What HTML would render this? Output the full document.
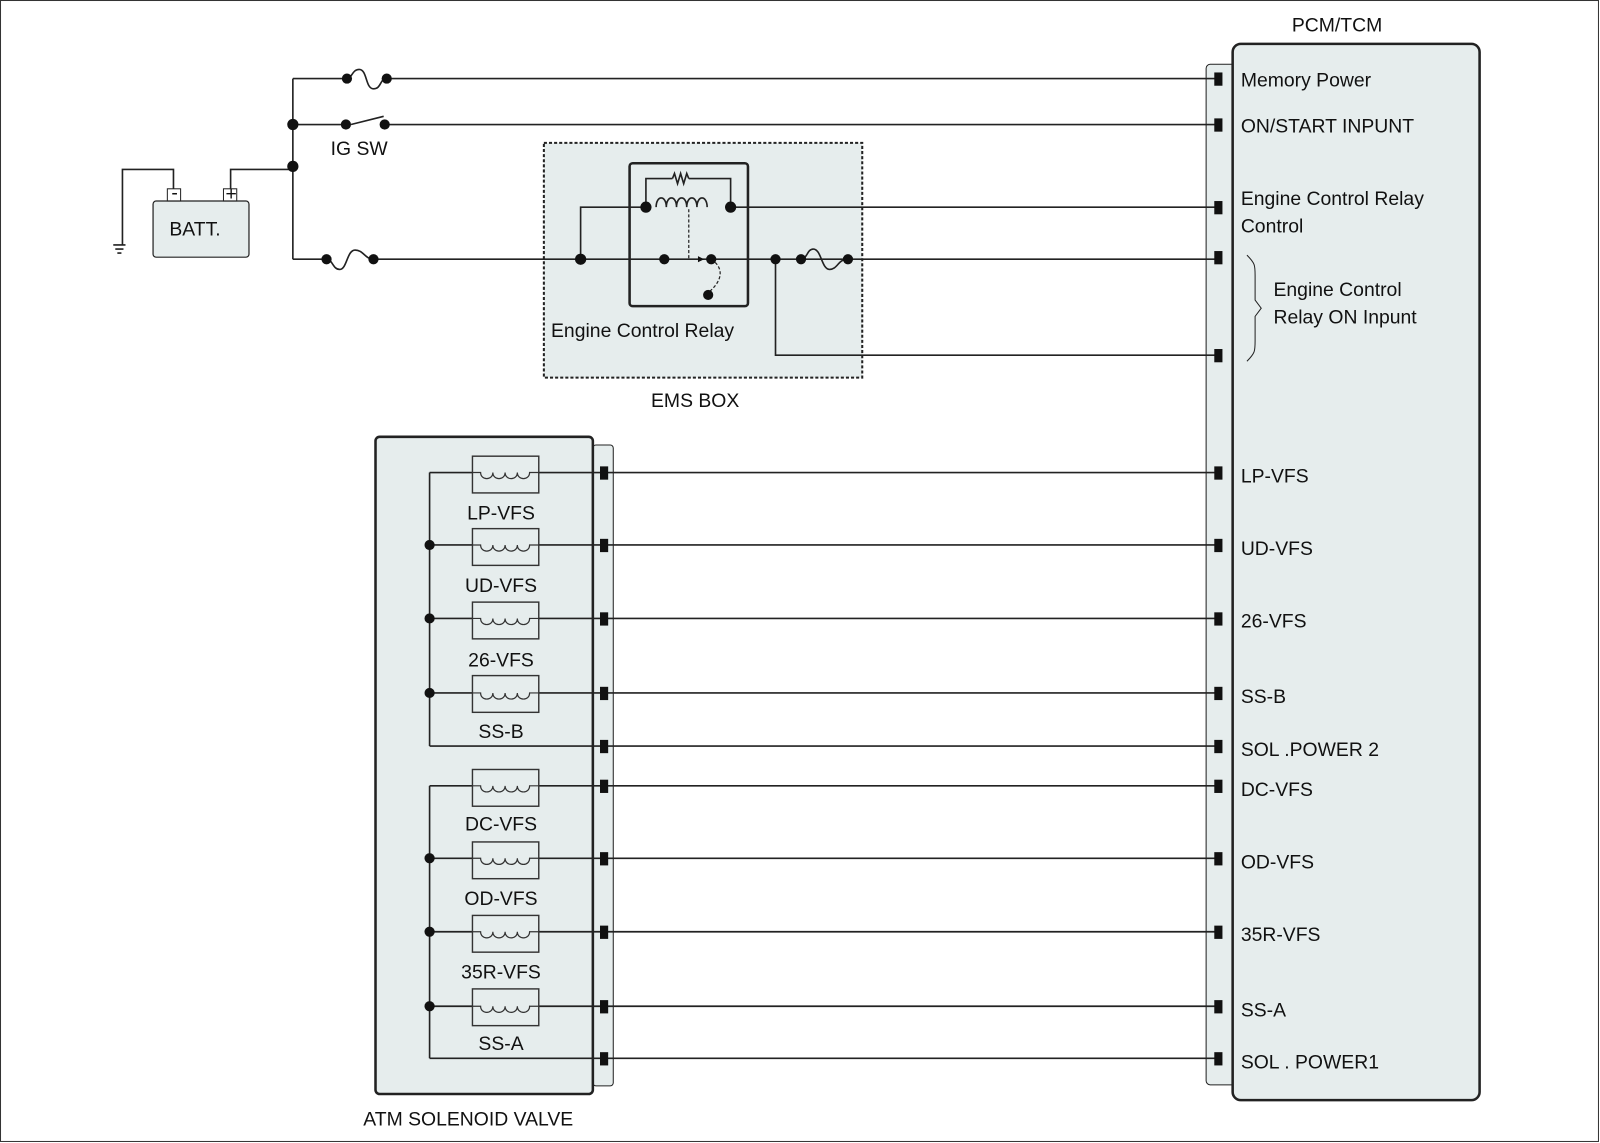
<!DOCTYPE html>
<html><head><style>
html,body{margin:0;padding:0;background:#fff;}
svg{display:block;}
text{font-family:"Liberation Sans",sans-serif;font-size:19px;fill:#111;}
</style></head><body>
<svg width="1600" height="1143" viewBox="0 0 1568 1120" preserveAspectRatio="none" xmlns="http://www.w3.org/2000/svg">
<rect x="0.5" y="0.5" width="1566" height="1118" fill="#fff" stroke="#333" stroke-width="1"/>
<g stroke="#222" stroke-width="1.6" fill="none">
<!-- PCM -->
<rect x="1182" y="63" width="30" height="1000" rx="4" fill="#e6eded" stroke-width="1"/>
<rect x="1208" y="43" width="242" height="1035" rx="8" fill="#e6eded" stroke-width="2.5"/>
<!-- EMS -->
<rect x="533" y="140" width="312" height="230" fill="#e6eded" stroke-dasharray="3,2" stroke-width="2"/>
<rect x="617" y="160" width="116" height="140" rx="3" stroke-width="2.5"/>
<!-- solenoid -->
<rect x="581" y="436" width="20" height="628" rx="3" fill="#e6eded" stroke-width="1"/>
<rect x="368" y="428" width="213" height="644" rx="4" fill="#e6eded" stroke-width="2.5"/>
<!-- battery -->
<rect x="150" y="197" width="94" height="55" rx="3" fill="#e6eded" stroke-width="1.2"/>
<rect x="164" y="185" width="13" height="12" stroke-width="1"/>
<rect x="219" y="185" width="13" height="12" stroke-width="1"/>
<path d="M170 185V166H120V240M226 185V166H287M287 77V254M287 77H340M379 77H1194M287 122H339M344 122L376 114M377 122H1194M287 254H320M366 254H1194M111 240H123M113 244H121M115 248H119"/>
<path d="M340 77C345 77 345 68 352 68C360 68 358 87 366 87C374 87 372 77 379 77"/>
<path d="M320 254C326 254 326 264 333 264C340 264 340 245 348 245C356 245 358 254 366 254"/>
<!-- relay -->
<path d="M569 254V203H633M633 203C633 175 633 175 633 175H659M675 175H716V203M716 203H1194"/>
<path d="M659 175l2 -5l3 10l3 -10l3 10l3 -10l2 5" />
<path d="M643 203c0-12 10-12 10 0c0-12 10-12 10 0c0-12 10-12 10 0c0-12 10-12 10 0c0-12 10-12 10 0" />
<path d="M675 205V254M697 254c12 8 12 20 -2 32" stroke-dasharray="3,2" stroke-width="1.2"/>
<path d="M760 254V348H1194M785 254c6 0 6 -10 12 -10c8 0 8 20 16 20c8 0 8 -10 18 -10"/>
<path d="M1222 250c8 8 8 10 8 20v24l6 8l-6 8v24c0 10 0 12 -8 20" stroke-width="1"/>
<!-- solenoid lines -->
<path d="M421 463V731M421 770V1037M421 463H463M421 534H463M421 606H463M421 679H463M421 770H463M421 841H463M421 913H463M421 986H463M421 731H1194M421 1037H1194"/>
<path d="M528 463H1194M528 534H1194M528 606H1194M528 679H1194M528 770H1194M528 841H1194M528 913H1194M528 986H1194"/>
</g>
<g fill="#111">
<polygon points="684,251 690,254 684,257"/>
<circle cx="340" cy="77" r="5"/><circle cx="379" cy="77" r="5"/>
<circle cx="287" cy="122" r="5.5"/><circle cx="287" cy="163" r="5.5"/>
<circle cx="339" cy="122" r="5"/><circle cx="377" cy="122" r="5"/>
<circle cx="320" cy="254" r="5"/><circle cx="366" cy="254" r="5"/>
<circle cx="569" cy="254" r="5.5"/><circle cx="633" cy="203" r="5.5"/><circle cx="716" cy="203" r="5.5"/>
<circle cx="651" cy="254" r="5"/><circle cx="697" cy="254" r="5"/><circle cx="694" cy="289" r="5"/>
<circle cx="760" cy="254" r="5"/><circle cx="785" cy="254" r="5"/><circle cx="831" cy="254" r="5"/>
<g>
<rect x="1190" y="71" width="8" height="13"/><rect x="1190" y="116" width="8" height="13"/>
<rect x="1190" y="197" width="8" height="13"/><rect x="1190" y="246" width="8" height="13"/>
<rect x="1190" y="342" width="8" height="13"/>
<rect x="1190" y="457" width="8" height="13"/><rect x="1190" y="528" width="8" height="13"/>
<rect x="1190" y="600" width="8" height="13"/><rect x="1190" y="673" width="8" height="13"/>
<rect x="1190" y="725" width="8" height="13"/><rect x="1190" y="764" width="8" height="13"/>
<rect x="1190" y="835" width="8" height="13"/><rect x="1190" y="907" width="8" height="13"/>
<rect x="1190" y="980" width="8" height="13"/><rect x="1190" y="1031" width="8" height="13"/>
</g>
<g>
<rect x="588" y="457" width="8" height="13"/><rect x="588" y="528" width="8" height="13"/>
<rect x="588" y="600" width="8" height="13"/><rect x="588" y="673" width="8" height="13"/>
<rect x="588" y="725" width="8" height="13"/><rect x="588" y="764" width="8" height="13"/>
<rect x="588" y="835" width="8" height="13"/><rect x="588" y="907" width="8" height="13"/>
<rect x="588" y="980" width="8" height="13"/><rect x="588" y="1031" width="8" height="13"/>
</g>
<circle cx="421" cy="534" r="5"/><circle cx="421" cy="606" r="5"/><circle cx="421" cy="679" r="5"/>
<circle cx="421" cy="841" r="5"/><circle cx="421" cy="913" r="5"/><circle cx="421" cy="986" r="5"/>
</g>
<!-- coils -->
<g stroke="#333" stroke-width="1.4" fill="#e6eded">
<rect x="463" y="447" width="65" height="36"/><rect x="463" y="518" width="65" height="36"/>
<rect x="463" y="590" width="65" height="36"/><rect x="463" y="662" width="65" height="36"/>
<rect x="463" y="754" width="65" height="36"/><rect x="463" y="825" width="65" height="36"/>
<rect x="463" y="897" width="65" height="36"/><rect x="463" y="969" width="65" height="36"/>
</g>
<g stroke="#333" stroke-width="1.2" fill="none">
<path id="c" d="M463 463h8c0 8 12 8 12 0c0 8 12 8 12 0c0 8 12 8 12 0c0 8 12 8 12 0h9"/>
<use href="#c" y="71"/><use href="#c" y="143"/><use href="#c" y="216"/>
<use href="#c" y="307"/><use href="#c" y="378"/><use href="#c" y="450"/><use href="#c" y="523"/>
</g>
<text x="166" y="231" font-size="20">BATT.</text>
<text x="168" y="195" font-size="12">-</text><text x="221" y="196" font-size="13">+</text>
<text x="324" y="152">IG SW</text>
<text x="540" y="330">Engine Control Relay</text>
<text x="638" y="399">EMS BOX</text>
<text x="1266" y="31">PCM/TCM</text>
<text x="1216" y="85">Memory Power</text>
<text x="1216" y="130">ON/START  INPUNT</text>
<text x="1216" y="201">Engine Control Relay</text>
<text x="1216" y="228">Control</text>
<text x="1248" y="290">Engine Control</text>
<text x="1248" y="317">Relay ON Inpunt</text>
<text x="1216" y="473">LP-VFS</text><text x="1216" y="544">UD-VFS</text>
<text x="1216" y="615">26-VFS</text><text x="1216" y="689">SS-B</text>
<text x="1216" y="741">SOL .POWER 2</text><text x="1216" y="780">DC-VFS</text>
<text x="1216" y="851">OD-VFS</text><text x="1216" y="922">35R-VFS</text>
<text x="1216" y="996">SS-A</text><text x="1216" y="1047">SOL . POWER1</text>
<g text-anchor="middle">
<text x="491" y="509">LP-VFS</text><text x="491" y="580">UD-VFS</text>
<text x="491" y="653">26-VFS</text><text x="491" y="723">SS-B</text>
<text x="491" y="814">DC-VFS</text><text x="491" y="887">OD-VFS</text>
<text x="491" y="959">35R-VFS</text><text x="491" y="1029">SS-A</text>
</g>
<text x="356" y="1103">ATM SOLENOID VALVE</text>
</svg>
</body></html>
